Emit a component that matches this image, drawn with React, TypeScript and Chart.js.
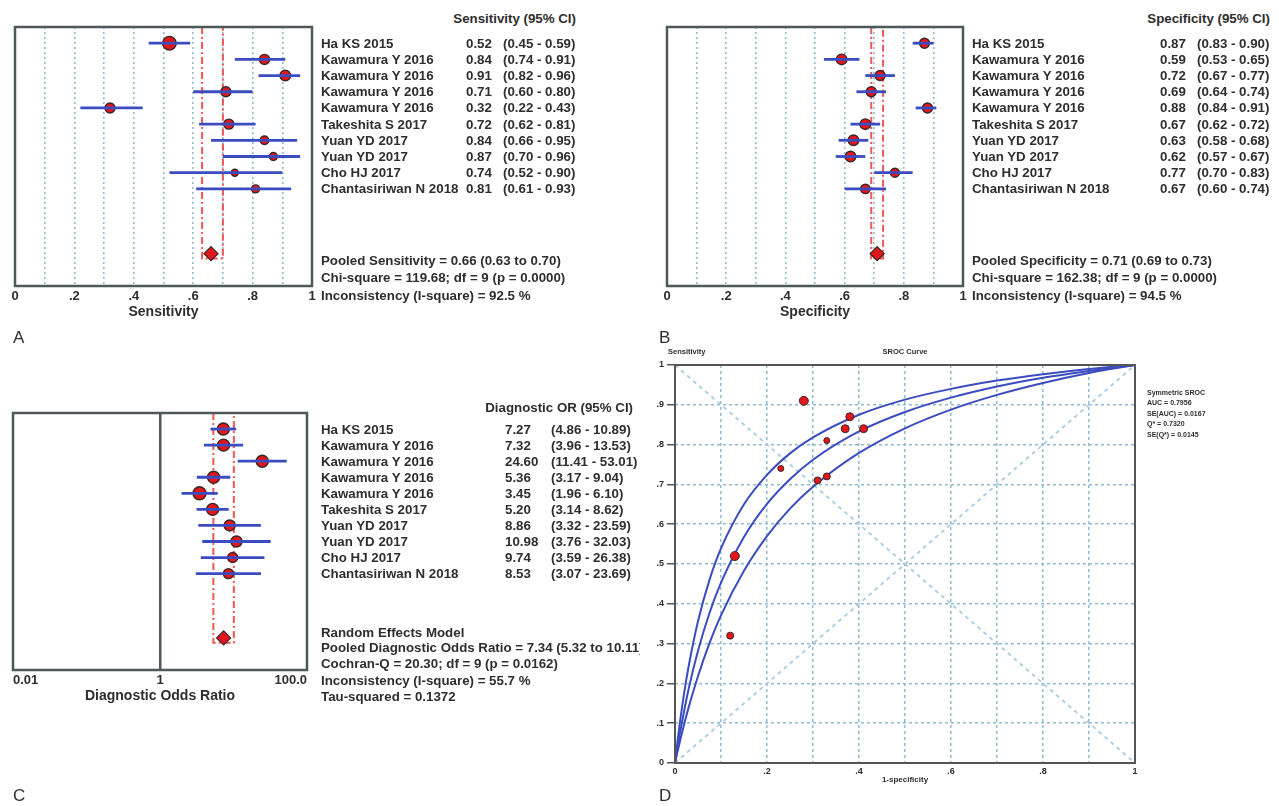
import React, { useEffect, useRef } from "react";
import { Chart, registerables } from "chart.js";

Chart.register(...registerables);

// ---------------- data ----------------
const studies = [
  "Ha KS 2015",
  "Kawamura Y 2016",
  "Kawamura Y 2016",
  "Kawamura Y 2016",
  "Kawamura Y 2016",
  "Takeshita S 2017",
  "Yuan YD 2017",
  "Yuan YD 2017",
  "Cho HJ 2017",
  "Chantasiriwan N 2018",
];

const sensVal = [0.52, 0.84, 0.91, 0.71, 0.32, 0.72, 0.84, 0.87, 0.74, 0.81];
const sensLo = [0.45, 0.74, 0.82, 0.6, 0.22, 0.62, 0.66, 0.7, 0.52, 0.61];
const sensHi = [0.59, 0.91, 0.96, 0.8, 0.43, 0.81, 0.95, 0.96, 0.9, 0.93];
const sensRadius = [6.8, 5, 5.3, 5, 5, 5, 4.3, 4, 3.5, 4];
const sensPooled = [0.66, 0.63, 0.7];

const specVal = [0.87, 0.59, 0.72, 0.69, 0.88, 0.67, 0.63, 0.62, 0.77, 0.67];
const specLo = [0.83, 0.53, 0.67, 0.64, 0.84, 0.62, 0.58, 0.57, 0.7, 0.6];
const specHi = [0.9, 0.65, 0.77, 0.74, 0.91, 0.72, 0.68, 0.67, 0.83, 0.74];
const specRadius = [5, 5.3, 5, 5, 5, 5.3, 5.3, 5.3, 4.5, 4.7];
const specPooled = [0.71, 0.69, 0.73];

const dorVal = [7.27, 7.32, 24.6, 5.36, 3.45, 5.2, 8.86, 10.98, 9.74, 8.53];
const dorLo = [4.86, 3.96, 11.41, 3.17, 1.96, 3.14, 3.32, 3.76, 3.59, 3.07];
const dorHi = [10.89, 13.53, 53.01, 9.04, 6.1, 8.62, 23.59, 32.03, 26.38, 23.69];
const dorRadius = [6, 6, 6, 6, 6.5, 6, 5.5, 5.5, 5, 5];
const dorPooled = [7.34, 5.32, 10.11];

const sensText = ["0.52", "0.84", "0.91", "0.71", "0.32", "0.72", "0.84", "0.87", "0.74", "0.81"];
const sensCiText = ["(0.45 - 0.59)", "(0.74 - 0.91)", "(0.82 - 0.96)", "(0.60 - 0.80)", "(0.22 - 0.43)", "(0.62 - 0.81)", "(0.66 - 0.95)", "(0.70 - 0.96)", "(0.52 - 0.90)", "(0.61 - 0.93)"];
const specText = ["0.87", "0.59", "0.72", "0.69", "0.88", "0.67", "0.63", "0.62", "0.77", "0.67"];
const specCiText = ["(0.83 - 0.90)", "(0.53 - 0.65)", "(0.67 - 0.77)", "(0.64 - 0.74)", "(0.84 - 0.91)", "(0.62 - 0.72)", "(0.58 - 0.68)", "(0.57 - 0.67)", "(0.70 - 0.83)", "(0.60 - 0.74)"];
const dorText = ["7.27", "7.32", "24.60", "5.36", "3.45", "5.20", "8.86", "10.98", "9.74", "8.53"];
const dorCiText = ["(4.86 - 10.89)", "(3.96 - 13.53)", "(11.41 - 53.01)", "(3.17 - 9.04)", "(1.96 - 6.10)", "(3.14 - 8.62)", "(3.32 - 23.59)", "(3.76 - 32.03)", "(3.59 - 26.38)", "(3.07 - 23.69)"];

const dorTickLabels = ["0.01", "1", "100.0"];
const dorTickValues = [0.01, 1, 100];

// SROC curves (1-specificity vs sensitivity)
const srocFpr = [0, 0.005, 0.01, 0.02, 0.03, 0.05, 0.075, 0.1, 0.15, 0.2, 0.25, 0.3, 0.4, 0.5, 0.6, 0.7, 0.8, 0.9, 1];
const srocMid = [0, 0.036, 0.07, 0.132, 0.188, 0.282, 0.377, 0.453, 0.568, 0.651, 0.713, 0.762, 0.833, 0.882, 0.918, 0.946, 0.968, 0.985, 1];
const srocUpper = [0, 0.05, 0.096, 0.177, 0.245, 0.356, 0.46, 0.539, 0.65, 0.724, 0.778, 0.818, 0.875, 0.913, 0.94, 0.961, 0.977, 0.99, 1];
const srocLower = [0, 0.026, 0.051, 0.098, 0.141, 0.218, 0.301, 0.371, 0.483, 0.57, 0.639, 0.694, 0.779, 0.841, 0.888, 0.925, 0.955, 0.98, 1];
const srocRadius = [4.5, 4, 4.5, 3.5, 3.5, 3.5, 4, 4, 3, 3];

const srocLegend = ["Symmetric SROC", "AUC = 0.7956", "SE(AUC) = 0.0167", "Q* = 0.7320", "SE(Q*) = 0.0145"];

// ---------------- styles ----------------
const FONT = '"Liberation Sans", Arial, sans-serif';
const TXT = "#2e2e2e";
const BLUE = "#3b4cc0";
const RED = "#e3161b";
const EDGE = "#3a2626";
const GRID = "#8fbcd0";
const FRAME = "#4d5959";
const DASH_RED = "#ef5656";
const NONE = "rgba(0,0,0,0)";
const TS = 13.3; // table text size

const framePlugin = {
  id: "frame",
  afterDraw(chart: any, _args: any, opts: any) {
    if (!opts || !opts.color) return;
    const { ctx, chartArea: a } = chart;
    ctx.save();
    ctx.strokeStyle = opts.color;
    ctx.lineWidth = opts.width;
    ctx.strokeRect(a.left, a.top, a.right - a.left, a.bottom - a.top);
    ctx.restore();
  },
};

const fmtHalf = (v: number) => {
  const t = Math.round(v * 10);
  if (t === 0) return "0";
  if (t === 10) return "1";
  return t % 2 === 0 ? "." + t : "";
};
const fmtTenth = (v: number) => {
  const t = Math.round(v * 10);
  if (t === 0) return "0";
  if (t === 10) return "1";
  return "." + t;
};

function forestConfig(p: any): any {
  const datasets: any[] = [];
  datasets.push({
    data: [
      { x: p.pooled[1], y: -1 },
      { x: p.pooled[1], y: 13.3 },
      { x: p.pooled[2], y: 13.3 },
      { x: p.pooled[2], y: -1 },
    ],
    showLine: true,
    borderColor: DASH_RED,
    borderWidth: 2,
    borderDash: [7, 3, 2, 3],
    pointRadius: 0,
    pointHoverRadius: 0,
    order: 5,
  });
  datasets.push({
    data: p.vals.map((v: number, i: number) => ({ x: v, y: i })),
    pointRadius: p.radii,
    pointHoverRadius: p.radii,
    backgroundColor: RED,
    borderColor: EDGE,
    borderWidth: 1.4,
    order: 4,
  });
  p.vals.forEach((_v: number, i: number) => {
    datasets.push({
      data: [
        { x: p.lo[i], y: i },
        { x: p.hi[i], y: i },
      ],
      showLine: true,
      borderColor: BLUE,
      borderWidth: 2.8,
      pointRadius: 0,
      pointHoverRadius: 0,
      order: 3,
    });
  });
  datasets.push({
    data: [{ x: p.pooled[0], y: 13 }],
    pointStyle: "rectRot",
    pointRadius: 7,
    backgroundColor: RED,
    borderColor: EDGE,
    borderWidth: 1.2,
    order: 1,
  });

  const tickFont = { family: FONT, weight: "bold", size: 13 };
  const titleFont = { family: FONT, weight: "bold", size: 14 };
  const x: any = p.log
    ? {
        type: "logarithmic",
        min: 0.01,
        max: 100,
        afterBuildTicks: (s: any) => {
          s.ticks = dorTickValues.map((v) => ({ value: v }));
        },
        afterFit: (s: any) => {
          s.height = 35;
        },
        ticks: {
          align: "inner",
          autoSkip: false,
          maxRotation: 0,
          padding: 3,
          color: TXT,
          font: tickFont,
          callback: (_v: any, i: number) => dorTickLabels[i],
        },
        grid: {
          drawTicks: false,
          color: (c: any) => (c.tick && c.tick.value === 1 ? FRAME : NONE),
          lineWidth: 2.5,
        },
        border: { display: false },
        title: { display: true, text: p.title, color: TXT, font: titleFont, padding: 0 },
      }
    : {
        type: "linear",
        min: 0,
        max: 1,
        afterFit: (s: any) => {
          s.height = 35;
        },
        ticks: {
          stepSize: 0.1,
          autoSkip: false,
          maxRotation: 0,
          padding: 3,
          color: TXT,
          font: tickFont,
          callback: (v: any) => fmtHalf(Number(v)),
        },
        grid: {
          drawTicks: false,
          color: (c: any) => {
            const t = c.tick ? Math.round(c.tick.value * 10) : 0;
            return t === 0 || t === 10 ? NONE : GRID;
          },
          lineWidth: 1.6,
        },
        border: { display: false, dash: [2, 3] },
        title: { display: true, text: p.title, color: TXT, font: titleFont, padding: 0 },
      };

  return {
    type: "scatter",
    data: { datasets },
    plugins: [framePlugin],
    options: {
      responsive: false,
      animation: false,
      devicePixelRatio: 1,
      layout: { padding: p.pad },
      scales: {
        x,
        y: { type: "linear", min: -1, max: 15, reverse: true, display: false },
      },
      plugins: {
        legend: { display: false },
        tooltip: { enabled: false },
        frame: { color: FRAME, width: 2.5 },
      },
    },
  };
}

function srocConfig(): any {
  const fpr = specVal.map((s) => +(1 - s).toFixed(2));
  const tickFont = { family: FONT, weight: "bold", size: 9 };
  const curve = (vals: number[]) => ({
    data: srocFpr.map((f, i) => ({ x: f, y: vals[i] })),
    showLine: true,
    borderColor: BLUE,
    borderWidth: 2,
    pointRadius: 0,
    pointHoverRadius: 0,
    cubicInterpolationMode: "monotone",
    order: 3,
  });
  const diag = (pts: any[]) => ({
    data: pts,
    showLine: true,
    borderColor: "#a9cbe0",
    borderWidth: 1.8,
    borderDash: [4, 4],
    pointRadius: 0,
    pointHoverRadius: 0,
    order: 6,
  });
  const datasets = [
    diag([
      { x: 0, y: 1 },
      { x: 1, y: 0 },
    ]),
    diag([
      { x: 0, y: 0 },
      { x: 1, y: 1 },
    ]),
    curve(srocUpper),
    curve(srocMid),
    curve(srocLower),
    {
      data: fpr.map((f, i) => ({ x: f, y: sensVal[i] })),
      pointRadius: srocRadius,
      pointHoverRadius: srocRadius,
      backgroundColor: RED,
      borderColor: EDGE,
      borderWidth: 1,
      order: 1,
    },
  ];
  return {
    type: "scatter",
    data: { datasets },
    plugins: [framePlugin],
    options: {
      responsive: false,
      animation: false,
      devicePixelRatio: 1,
      layout: { padding: { left: 10, right: 15, top: 20, bottom: 5 } },
      scales: {
        x: {
          type: "linear",
          min: 0,
          max: 1,
          afterFit: (s: any) => {
            s.height = 22;
          },
          ticks: {
            stepSize: 0.1,
            autoSkip: false,
            maxRotation: 0,
            padding: 3,
            color: TXT,
            font: tickFont,
            callback: (v: any) => fmtHalf(Number(v)),
          },
          grid: {
            drawTicks: false,
            color: (c: any) => {
              const t = c.tick ? Math.round(c.tick.value * 10) : 0;
              return t === 0 || t === 10 ? NONE : GRID;
            },
            lineWidth: 1.5,
          },
          border: { display: false, dash: [3, 3] },
          title: { display: true, text: "1-specificity", color: TXT, font: { family: FONT, weight: "bold", size: 8 }, padding: 0 },
        },
        y: {
          type: "linear",
          min: 0,
          max: 1,
          afterFit: (s: any) => {
            s.width = 25;
          },
          ticks: {
            stepSize: 0.1,
            autoSkip: false,
            padding: 3,
            color: TXT,
            font: tickFont,
            callback: (v: any) => fmtTenth(Number(v)),
          },
          grid: {
            drawTicks: true,
            tickLength: 8,
            tickColor: "#555",
            tickWidth: 1.5,
            color: (c: any) => {
              const t = c.tick ? Math.round(c.tick.value * 10) : 0;
              return t === 0 || t === 10 ? NONE : GRID;
            },
            lineWidth: 1.5,
          },
          border: { display: false, dash: [3, 3] },
        },
      },
      plugins: {
        legend: { display: false },
        tooltip: { enabled: false },
        frame: { color: "#555", width: 2 },
      },
    },
  };
}

function ChartBox(props: { left: number; top: number; width: number; height: number; make: () => any }) {
  const ref = useRef<HTMLCanvasElement>(null);
  useEffect(() => {
    const chart = new Chart(ref.current as HTMLCanvasElement, props.make());
    return () => chart.destroy();
  }, []);
  return (
    <canvas
      ref={ref}
      width={props.width}
      height={props.height}
      style={{ position: "absolute", left: props.left, top: props.top, width: props.width, height: props.height }}
    />
  );
}

function T(props: { x: number; y: number; size?: number; anchor?: "start" | "middle" | "end"; bold?: boolean; children: any }) {
  const size = props.size ?? TS;
  const lh = Math.round(size * 1.3);
  const tf = props.anchor === "middle" ? "translateX(-50%)" : props.anchor === "end" ? "translateX(-100%)" : undefined;
  return (
    <div
      style={{
        position: "absolute",
        left: props.x,
        top: props.y - lh / 2,
        fontFamily: FONT,
        fontWeight: props.bold === false ? 400 : 700,
        fontSize: size,
        lineHeight: lh + "px",
        color: TXT,
        whiteSpace: "nowrap",
        transform: tf,
      }}
    >
      {props.children}
    </div>
  );
}

function Table(p: { top: number; step: number; nameX: number; valX: number; ciX: number; vals: string[]; cis: string[] }) {
  return (
    <>
      {studies.map((s, i) => {
        const y = p.top + (i + 1) * p.step;
        return (
          <React.Fragment key={i}>
            <T x={p.nameX} y={y}>{s}</T>
            <T x={p.valX} y={y}>{p.vals[i]}</T>
            <T x={p.ciX} y={y}>{p.cis[i]}</T>
          </React.Fragment>
        );
      })}
    </>
  );
}

export default function App() {
  const rowA = 259 / 16;
  const rowC = 257 / 16;
  return (
    <div
      style={{
        position: "absolute",
        left: 0,
        top: 0,
        width: 1279,
        height: 806,
        background: "#ffffff",
        overflow: "hidden",
      }}
    >
      {/* Panel A */}
      <ChartBox
        left={0}
        top={0}
        width={330}
        height={330}
        make={() =>
          forestConfig({
            vals: sensVal,
            lo: sensLo,
            hi: sensHi,
            radii: sensRadius,
            pooled: sensPooled,
            title: "Sensitivity",
            log: false,
            pad: { left: 15, right: 18, top: 27, bottom: 9 },
          })
        }
      />
      <T x={576} y={18} anchor="end">Sensitivity (95% CI)</T>
      <Table top={27} step={rowA} nameX={321} valX={466} ciX={503} vals={sensText} cis={sensCiText} />
      <T x={321} y={260}>Pooled Sensitivity = 0.66 (0.63 to 0.70)</T>
      <T x={321} y={277}>Chi-square = 119.68; df = 9 (p = 0.0000)</T>
      <T x={321} y={295}>Inconsistency (I-square) = 92.5 %</T>
      <T x={13} y={338} size={17} bold={false}>A</T>

      {/* Panel B */}
      <ChartBox
        left={650}
        top={0}
        width={330}
        height={330}
        make={() =>
          forestConfig({
            vals: specVal,
            lo: specLo,
            hi: specHi,
            radii: specRadius,
            pooled: specPooled,
            title: "Specificity",
            log: false,
            pad: { left: 17, right: 17, top: 27, bottom: 9 },
          })
        }
      />
      <T x={1270} y={18} anchor="end">Specificity (95% CI)</T>
      <Table top={27} step={rowA} nameX={972} valX={1160} ciX={1197} vals={specText} cis={specCiText} />
      <T x={972} y={260}>Pooled Specificity = 0.71 (0.69 to 0.73)</T>
      <T x={972} y={277}>Chi-square = 162.38; df = 9 (p = 0.0000)</T>
      <T x={972} y={295}>Inconsistency (I-square) = 94.5 %</T>
      <T x={659} y={338} size={17} bold={false}>B</T>

      {/* Panel C */}
      <div style={{ position: "absolute", left: 0, top: 0, width: 640, height: 806, overflow: "hidden" }}>
        <ChartBox
          left={0}
          top={386}
          width={330}
          height={330}
          make={() =>
            forestConfig({
              vals: dorVal,
              lo: dorLo,
              hi: dorHi,
              radii: dorRadius,
              pooled: dorPooled,
              title: "Diagnostic Odds Ratio",
              log: true,
              pad: { left: 13, right: 23, top: 27, bottom: 11 },
            })
          }
        />
        <T x={633} y={407} anchor="end">Diagnostic OR (95% CI)</T>
        <Table top={413} step={rowC} nameX={321} valX={505} ciX={551} vals={dorText} cis={dorCiText} />
        <T x={321} y={632}>Random Effects Model</T>
        <T x={321} y={647}>Pooled Diagnostic Odds Ratio = 7.34 (5.32 to 10.11)</T>
        <T x={321} y={663}>Cochran-Q = 20.30; df = 9 (p = 0.0162)</T>
        <T x={321} y={680}>Inconsistency (I-square) = 55.7 %</T>
        <T x={321} y={696}>Tau-squared = 0.1372</T>
        <T x={13} y={796} size={17} bold={false}>C</T>
      </div>

      {/* Panel D */}
      <ChartBox left={640} top={345} width={510} height={445} make={srocConfig} />
      <T x={668} y={352} size={7.5}>Sensitivity</T>
      <T x={905} y={352} size={7.5} anchor="middle">SROC Curve</T>
      {srocLegend.map((s, i) => (
        <T key={i} x={1147} y={392 + i * 10.5} size={7}>
          {s}
        </T>
      ))}
      <T x={659} y={796} size={17} bold={false}>D</T>
    </div>
  );
}
